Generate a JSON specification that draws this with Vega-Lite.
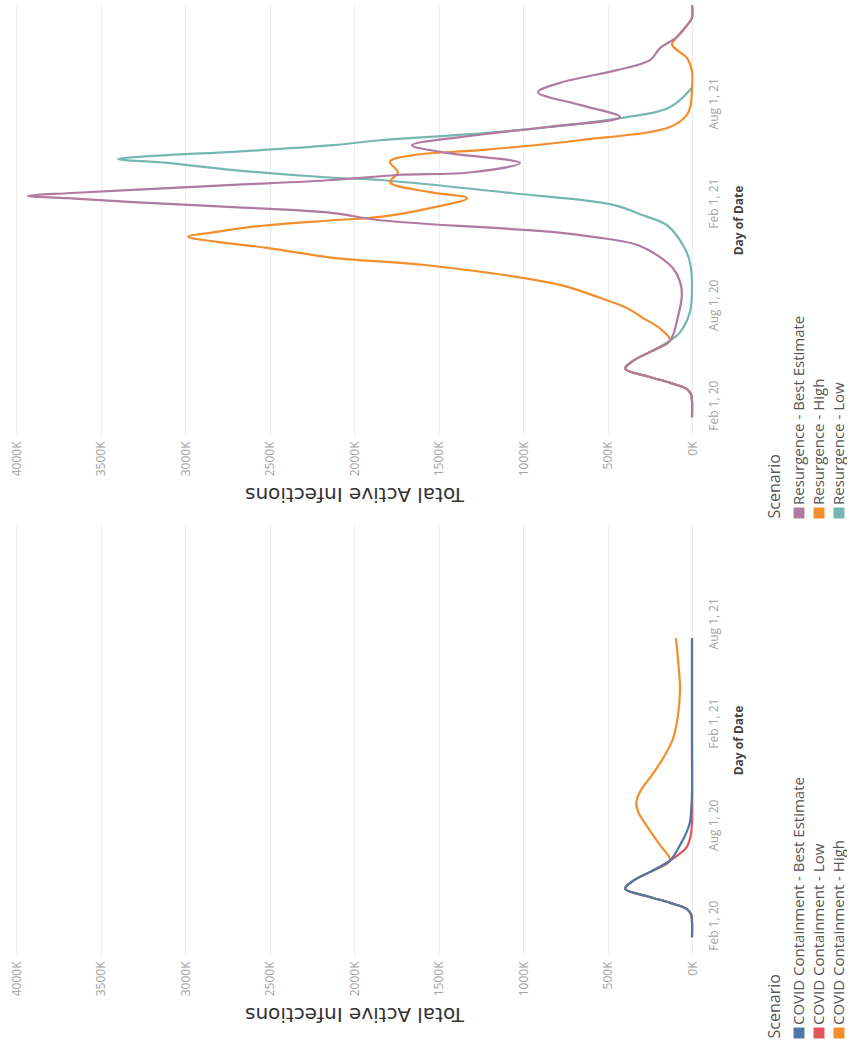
{
  "$schema": "https://vega.github.io/schema/vega-lite/v6.json",
  "background": "white",
  "padding": {"left": 10, "top": 0, "right": 0, "bottom": 0},
  "config": {
    "view": {"stroke": null},
    "font": "Open Sans",
    "axis": {"labelFont": "Open Sans", "titleFont": "Open Sans"}
  },
  "datasets": {
    "resurgence": [
      {"Scenario": "Resurgence - Low", "Date": "2020-01-10", "Infections": 0},
      {"Scenario": "Resurgence - Low", "Date": "2020-02-08", "Infections": 0},
      {"Scenario": "Resurgence - Low", "Date": "2020-02-20", "Infections": 5000},
      {"Scenario": "Resurgence - Low", "Date": "2020-03-01", "Infections": 30000},
      {"Scenario": "Resurgence - Low", "Date": "2020-03-12", "Infections": 125000},
      {"Scenario": "Resurgence - Low", "Date": "2020-03-24", "Infections": 260000},
      {"Scenario": "Resurgence - Low", "Date": "2020-04-07", "Infections": 396000},
      {"Scenario": "Resurgence - Low", "Date": "2020-04-22", "Infections": 345000},
      {"Scenario": "Resurgence - Low", "Date": "2020-05-08", "Infections": 245000},
      {"Scenario": "Resurgence - Low", "Date": "2020-05-28", "Infections": 130000},
      {"Scenario": "Resurgence - Low", "Date": "2020-06-12", "Infections": 71000},
      {"Scenario": "Resurgence - Low", "Date": "2020-07-19", "Infections": 12000},
      {"Scenario": "Resurgence - Low", "Date": "2020-09-06", "Infections": 0},
      {"Scenario": "Resurgence - Low", "Date": "2020-10-17", "Infections": 12000},
      {"Scenario": "Resurgence - Low", "Date": "2020-11-17", "Infections": 53000},
      {"Scenario": "Resurgence - Low", "Date": "2020-12-23", "Infections": 148000},
      {"Scenario": "Resurgence - Low", "Date": "2021-01-10", "Infections": 290000},
      {"Scenario": "Resurgence - Low", "Date": "2021-01-29", "Infections": 467000},
      {"Scenario": "Resurgence - Low", "Date": "2021-02-19", "Infections": 1059000},
      {"Scenario": "Resurgence - Low", "Date": "2021-03-15", "Infections": 1846000},
      {"Scenario": "Resurgence - Low", "Date": "2021-03-19", "Infections": 2124000},
      {"Scenario": "Resurgence - Low", "Date": "2021-04-02", "Infections": 2716000},
      {"Scenario": "Resurgence - Low", "Date": "2021-04-15", "Infections": 3106000},
      {"Scenario": "Resurgence - Low", "Date": "2021-04-22", "Infections": 3396000},
      {"Scenario": "Resurgence - Low", "Date": "2021-04-29", "Infections": 3106000},
      {"Scenario": "Resurgence - Low", "Date": "2021-05-05", "Infections": 2716000},
      {"Scenario": "Resurgence - Low", "Date": "2021-05-17", "Infections": 2124000},
      {"Scenario": "Resurgence - Low", "Date": "2021-05-26", "Infections": 1846000},
      {"Scenario": "Resurgence - Low", "Date": "2021-06-10", "Infections": 1136000},
      {"Scenario": "Resurgence - Low", "Date": "2021-07-05", "Infections": 426000},
      {"Scenario": "Resurgence - Low", "Date": "2021-07-25", "Infections": 130000},
      {"Scenario": "Resurgence - Low", "Date": "2021-08-29", "Infections": 0},

      {"Scenario": "Resurgence - High", "Date": "2020-01-10", "Infections": 0},
      {"Scenario": "Resurgence - High", "Date": "2020-02-08", "Infections": 0},
      {"Scenario": "Resurgence - High", "Date": "2020-02-20", "Infections": 5000},
      {"Scenario": "Resurgence - High", "Date": "2020-03-01", "Infections": 30000},
      {"Scenario": "Resurgence - High", "Date": "2020-03-12", "Infections": 125000},
      {"Scenario": "Resurgence - High", "Date": "2020-03-24", "Infections": 260000},
      {"Scenario": "Resurgence - High", "Date": "2020-04-07", "Infections": 396000},
      {"Scenario": "Resurgence - High", "Date": "2020-04-22", "Infections": 345000},
      {"Scenario": "Resurgence - High", "Date": "2020-05-08", "Infections": 245000},
      {"Scenario": "Resurgence - High", "Date": "2020-05-28", "Infections": 130000},
      {"Scenario": "Resurgence - High", "Date": "2020-06-19", "Infections": 189000},
      {"Scenario": "Resurgence - High", "Date": "2020-07-08", "Infections": 290000},
      {"Scenario": "Resurgence - High", "Date": "2020-07-26", "Infections": 385000},
      {"Scenario": "Resurgence - High", "Date": "2020-08-18", "Infections": 586000},
      {"Scenario": "Resurgence - High", "Date": "2020-09-06", "Infections": 781000},
      {"Scenario": "Resurgence - High", "Date": "2020-10-12", "Infections": 1580000},
      {"Scenario": "Resurgence - High", "Date": "2020-10-25", "Infections": 2124000},
      {"Scenario": "Resurgence - High", "Date": "2020-11-12", "Infections": 2515000},
      {"Scenario": "Resurgence - High", "Date": "2020-11-23", "Infections": 2811000},
      {"Scenario": "Resurgence - High", "Date": "2020-12-02", "Infections": 2982000},
      {"Scenario": "Resurgence - High", "Date": "2020-12-11", "Infections": 2811000},
      {"Scenario": "Resurgence - High", "Date": "2020-12-23", "Infections": 2515000},
      {"Scenario": "Resurgence - High", "Date": "2021-01-01", "Infections": 2124000},
      {"Scenario": "Resurgence - High", "Date": "2021-01-07", "Infections": 1846000},
      {"Scenario": "Resurgence - High", "Date": "2021-01-23", "Infections": 1550000},
      {"Scenario": "Resurgence - High", "Date": "2021-02-10", "Infections": 1330000},
      {"Scenario": "Resurgence - High", "Date": "2021-02-21", "Infections": 1550000},
      {"Scenario": "Resurgence - High", "Date": "2021-03-11", "Infections": 1787000},
      {"Scenario": "Resurgence - High", "Date": "2021-03-29", "Infections": 1740000},
      {"Scenario": "Resurgence - High", "Date": "2021-04-17", "Infections": 1787000},
      {"Scenario": "Resurgence - High", "Date": "2021-04-29", "Infections": 1651000},
      {"Scenario": "Resurgence - High", "Date": "2021-05-08", "Infections": 1254000},
      {"Scenario": "Resurgence - High", "Date": "2021-05-26", "Infections": 663000},
      {"Scenario": "Resurgence - High", "Date": "2021-06-19", "Infections": 130000},
      {"Scenario": "Resurgence - High", "Date": "2021-07-11", "Infections": 30000},
      {"Scenario": "Resurgence - High", "Date": "2021-07-29", "Infections": 8000},
      {"Scenario": "Resurgence - High", "Date": "2021-08-29", "Infections": 0},
      {"Scenario": "Resurgence - High", "Date": "2021-09-27", "Infections": 0},
      {"Scenario": "Resurgence - High", "Date": "2021-10-22", "Infections": 30000},
      {"Scenario": "Resurgence - High", "Date": "2021-11-15", "Infections": 118000},
      {"Scenario": "Resurgence - High", "Date": "2021-11-29", "Infections": 89000},
      {"Scenario": "Resurgence - High", "Date": "2021-12-20", "Infections": 30000},
      {"Scenario": "Resurgence - High", "Date": "2022-01-03", "Infections": 0},
      {"Scenario": "Resurgence - High", "Date": "2022-01-26", "Infections": 0},

      {"Scenario": "Resurgence - Best Estimate", "Date": "2020-01-10", "Infections": 0},
      {"Scenario": "Resurgence - Best Estimate", "Date": "2020-02-08", "Infections": 0},
      {"Scenario": "Resurgence - Best Estimate", "Date": "2020-02-20", "Infections": 5000},
      {"Scenario": "Resurgence - Best Estimate", "Date": "2020-03-01", "Infections": 30000},
      {"Scenario": "Resurgence - Best Estimate", "Date": "2020-03-12", "Infections": 125000},
      {"Scenario": "Resurgence - Best Estimate", "Date": "2020-03-24", "Infections": 260000},
      {"Scenario": "Resurgence - Best Estimate", "Date": "2020-04-07", "Infections": 396000},
      {"Scenario": "Resurgence - Best Estimate", "Date": "2020-04-22", "Infections": 345000},
      {"Scenario": "Resurgence - Best Estimate", "Date": "2020-05-08", "Infections": 245000},
      {"Scenario": "Resurgence - Best Estimate", "Date": "2020-05-28", "Infections": 130000},
      {"Scenario": "Resurgence - Best Estimate", "Date": "2020-07-08", "Infections": 85000},
      {"Scenario": "Resurgence - Best Estimate", "Date": "2020-08-18", "Infections": 60000},
      {"Scenario": "Resurgence - Best Estimate", "Date": "2020-09-11", "Infections": 70000},
      {"Scenario": "Resurgence - Best Estimate", "Date": "2020-10-06", "Infections": 112000},
      {"Scenario": "Resurgence - Best Estimate", "Date": "2020-10-30", "Infections": 207000},
      {"Scenario": "Resurgence - Best Estimate", "Date": "2020-11-19", "Infections": 340000},
      {"Scenario": "Resurgence - Best Estimate", "Date": "2020-12-02", "Infections": 586000},
      {"Scenario": "Resurgence - Best Estimate", "Date": "2020-12-11", "Infections": 830000},
      {"Scenario": "Resurgence - Best Estimate", "Date": "2021-01-01", "Infections": 1846000},
      {"Scenario": "Resurgence - Best Estimate", "Date": "2021-01-14", "Infections": 2124000},
      {"Scenario": "Resurgence - Best Estimate", "Date": "2021-01-25", "Infections": 2716000},
      {"Scenario": "Resurgence - Best Estimate", "Date": "2021-02-03", "Infections": 3308000},
      {"Scenario": "Resurgence - Best Estimate", "Date": "2021-02-10", "Infections": 3698000},
      {"Scenario": "Resurgence - Best Estimate", "Date": "2021-02-14", "Infections": 3929000},
      {"Scenario": "Resurgence - Best Estimate", "Date": "2021-02-19", "Infections": 3698000},
      {"Scenario": "Resurgence - Best Estimate", "Date": "2021-02-25", "Infections": 3308000},
      {"Scenario": "Resurgence - Best Estimate", "Date": "2021-03-06", "Infections": 2716000},
      {"Scenario": "Resurgence - Best Estimate", "Date": "2021-03-15", "Infections": 2124000},
      {"Scenario": "Resurgence - Best Estimate", "Date": "2021-03-24", "Infections": 1745000},
      {"Scenario": "Resurgence - Best Estimate", "Date": "2021-03-29", "Infections": 1300000},
      {"Scenario": "Resurgence - Best Estimate", "Date": "2021-04-15", "Infections": 1018000},
      {"Scenario": "Resurgence - Best Estimate", "Date": "2021-05-03", "Infections": 1450000},
      {"Scenario": "Resurgence - Best Estimate", "Date": "2021-05-17", "Infections": 1657000},
      {"Scenario": "Resurgence - Best Estimate", "Date": "2021-06-05", "Infections": 1254000},
      {"Scenario": "Resurgence - Best Estimate", "Date": "2021-06-19", "Infections": 858000},
      {"Scenario": "Resurgence - Best Estimate", "Date": "2021-07-07", "Infections": 426000},
      {"Scenario": "Resurgence - Best Estimate", "Date": "2021-07-29", "Infections": 663000},
      {"Scenario": "Resurgence - Best Estimate", "Date": "2021-08-21", "Infections": 911000},
      {"Scenario": "Resurgence - Best Estimate", "Date": "2021-09-07", "Infections": 781000},
      {"Scenario": "Resurgence - Best Estimate", "Date": "2021-09-30", "Infections": 444000},
      {"Scenario": "Resurgence - Best Estimate", "Date": "2021-10-18", "Infections": 249000},
      {"Scenario": "Resurgence - Best Estimate", "Date": "2021-11-09", "Infections": 189000},
      {"Scenario": "Resurgence - Best Estimate", "Date": "2021-11-29", "Infections": 89000},
      {"Scenario": "Resurgence - Best Estimate", "Date": "2021-12-20", "Infections": 30000},
      {"Scenario": "Resurgence - Best Estimate", "Date": "2022-01-03", "Infections": 0},
      {"Scenario": "Resurgence - Best Estimate", "Date": "2022-01-26", "Infections": 0}
    ],
    "containment": [
      {"Scenario": "COVID Containment - Low", "Date": "2020-01-10", "Infections": 0},
      {"Scenario": "COVID Containment - Low", "Date": "2020-02-08", "Infections": 0},
      {"Scenario": "COVID Containment - Low", "Date": "2020-02-20", "Infections": 5000},
      {"Scenario": "COVID Containment - Low", "Date": "2020-03-01", "Infections": 30000},
      {"Scenario": "COVID Containment - Low", "Date": "2020-03-12", "Infections": 125000},
      {"Scenario": "COVID Containment - Low", "Date": "2020-03-24", "Infections": 260000},
      {"Scenario": "COVID Containment - Low", "Date": "2020-04-07", "Infections": 396000},
      {"Scenario": "COVID Containment - Low", "Date": "2020-04-22", "Infections": 345000},
      {"Scenario": "COVID Containment - Low", "Date": "2020-05-08", "Infections": 245000},
      {"Scenario": "COVID Containment - Low", "Date": "2020-05-28", "Infections": 130000},
      {"Scenario": "COVID Containment - Low", "Date": "2020-06-10", "Infections": 70000},
      {"Scenario": "COVID Containment - Low", "Date": "2020-06-22", "Infections": 30000},
      {"Scenario": "COVID Containment - Low", "Date": "2020-07-12", "Infections": 8000},
      {"Scenario": "COVID Containment - Low", "Date": "2020-08-05", "Infections": 0},
      {"Scenario": "COVID Containment - Low", "Date": "2020-12-01", "Infections": 0},
      {"Scenario": "COVID Containment - Low", "Date": "2021-07-05", "Infections": 0},

      {"Scenario": "COVID Containment - High", "Date": "2020-01-10", "Infections": 0},
      {"Scenario": "COVID Containment - High", "Date": "2020-02-08", "Infections": 0},
      {"Scenario": "COVID Containment - High", "Date": "2020-02-20", "Infections": 5000},
      {"Scenario": "COVID Containment - High", "Date": "2020-03-01", "Infections": 30000},
      {"Scenario": "COVID Containment - High", "Date": "2020-03-12", "Infections": 125000},
      {"Scenario": "COVID Containment - High", "Date": "2020-03-24", "Infections": 260000},
      {"Scenario": "COVID Containment - High", "Date": "2020-04-07", "Infections": 396000},
      {"Scenario": "COVID Containment - High", "Date": "2020-04-22", "Infections": 345000},
      {"Scenario": "COVID Containment - High", "Date": "2020-05-08", "Infections": 245000},
      {"Scenario": "COVID Containment - High", "Date": "2020-05-28", "Infections": 130000},
      {"Scenario": "COVID Containment - High", "Date": "2020-06-25", "Infections": 189000},
      {"Scenario": "COVID Containment - High", "Date": "2020-07-31", "Infections": 270000},
      {"Scenario": "COVID Containment - High", "Date": "2020-08-22", "Infections": 315000},
      {"Scenario": "COVID Containment - High", "Date": "2020-09-10", "Infections": 330000},
      {"Scenario": "COVID Containment - High", "Date": "2020-10-01", "Infections": 305000},
      {"Scenario": "COVID Containment - High", "Date": "2020-10-30", "Infections": 237000},
      {"Scenario": "COVID Containment - High", "Date": "2020-11-29", "Infections": 172000},
      {"Scenario": "COVID Containment - High", "Date": "2021-01-04", "Infections": 112000},
      {"Scenario": "COVID Containment - High", "Date": "2021-02-15", "Infections": 83000},
      {"Scenario": "COVID Containment - High", "Date": "2021-04-05", "Infections": 71000},
      {"Scenario": "COVID Containment - High", "Date": "2021-05-17", "Infections": 80000},
      {"Scenario": "COVID Containment - High", "Date": "2021-07-05", "Infections": 95000},

      {"Scenario": "COVID Containment - Best Estimate", "Date": "2020-01-10", "Infections": 0},
      {"Scenario": "COVID Containment - Best Estimate", "Date": "2020-02-08", "Infections": 0},
      {"Scenario": "COVID Containment - Best Estimate", "Date": "2020-02-20", "Infections": 5000},
      {"Scenario": "COVID Containment - Best Estimate", "Date": "2020-03-01", "Infections": 30000},
      {"Scenario": "COVID Containment - Best Estimate", "Date": "2020-03-12", "Infections": 125000},
      {"Scenario": "COVID Containment - Best Estimate", "Date": "2020-03-24", "Infections": 260000},
      {"Scenario": "COVID Containment - Best Estimate", "Date": "2020-04-07", "Infections": 396000},
      {"Scenario": "COVID Containment - Best Estimate", "Date": "2020-04-22", "Infections": 345000},
      {"Scenario": "COVID Containment - Best Estimate", "Date": "2020-05-08", "Infections": 245000},
      {"Scenario": "COVID Containment - Best Estimate", "Date": "2020-05-28", "Infections": 130000},
      {"Scenario": "COVID Containment - Best Estimate", "Date": "2020-06-25", "Infections": 71000},
      {"Scenario": "COVID Containment - Best Estimate", "Date": "2020-07-20", "Infections": 30000},
      {"Scenario": "COVID Containment - Best Estimate", "Date": "2020-08-06", "Infections": 12000},
      {"Scenario": "COVID Containment - Best Estimate", "Date": "2020-09-01", "Infections": 4000},
      {"Scenario": "COVID Containment - Best Estimate", "Date": "2020-09-29", "Infections": 0},
      {"Scenario": "COVID Containment - Best Estimate", "Date": "2021-01-15", "Infections": 0},
      {"Scenario": "COVID Containment - Best Estimate", "Date": "2021-07-05", "Infections": 0}
    ]
  },
  "resolve": {"scale": {"color": "independent"}},
  "spacing": 6,
  "vconcat": [
    {
      "spacing": 22,
      "hconcat": [
        {
          "width": 676,
          "height": 430,
          "data": {"name": "resurgence"},
          "mark": {"type": "line", "interpolate": "catmull-rom", "strokeWidth": 2.2},
          "encoding": {
            "x": {
              "field": "Infections", "type": "quantitative",
              "scale": {"domain": [0, 4000000], "reverse": true, "nice": false},
              "axis": {
                "orient": "bottom", "title": "Total Active Infections",
                "values": [0, 500000, 1000000, 1500000, 2000000, 2500000, 3000000, 3500000, 4000000],
                "labelExpr": "format(datum.value / 1000, 'd') + 'K'",
                "labelAngle": 270, "labelAlign": "right", "labelBaseline": "middle",
                "labelPadding": 6, "labelFontSize": 12, "labelColor": "#a3a3a3",
                "ticks": false, "domain": false, "grid": true, "gridColor": "#ededed", "gridWidth": 1,
                "titleAngle": 180, "titleBaseline": "bottom", "titleFontSize": 20, "titleFont": "DejaVu Sans",
                "titleFontWeight": "normal", "titleColor": "#333333", "titlePadding": 8
              }
            },
            "y": {
              "field": "Date", "type": "temporal",
              "scale": {"type": "utc", "domain": [{"year": 2019, "month": 12, "date": 9, "utc": true}, {"year": 2022, "month": 1, "date": 26, "utc": true}]},
              "axis": {
                "orient": "right", "title": "Day of Date",
                "values": [
                  {"year": 2020, "month": 2, "date": 1, "utc": true},
                  {"year": 2020, "month": 8, "date": 1, "utc": true},
                  {"year": 2021, "month": 2, "date": 1, "utc": true},
                  {"year": 2021, "month": 8, "date": 1, "utc": true}
                ],
                "format": "%b %-d, %y",
                "labelAngle": 270, "labelAlign": "center", "labelBaseline": "top",
                "labelPadding": 16, "labelFontSize": 12, "labelColor": "#a3a3a3",
                "ticks": false, "domain": false, "grid": false,
                "titleAngle": 270, "titleBaseline": "top", "titleFontSize": 12,
                "titleFontWeight": "bold", "titleColor": "#444444", "titlePadding": 14
              }
            },
            "color": {
              "field": "Scenario", "type": "nominal",
              "scale": {"domain": ["Resurgence - Best Estimate", "Resurgence - High", "Resurgence - Low"], "range": ["#b07aa1", "#f28e2b", "#76b7b2"]},
              "legend": null
            },
            "order": {"field": "Date", "type": "temporal"}
          }
        },
        {
          "width": 40,
          "height": 508,
          "data": {"name": "resurgence"},
          "transform": [{"aggregate": [{"op": "count", "as": "n"}], "groupby": ["Scenario"]}],
          "title": {"text": "Scenario", "orient": "left", "anchor": "start", "fontSize": 16, "fontWeight": "normal", "color": "#555555", "font": "Open Sans", "offset": 9},
          "encoding": {
            "x": {"field": "Scenario", "type": "nominal", "scale": {"type": "point", "domain": ["Resurgence - Best Estimate", "Resurgence - High", "Resurgence - Low"], "padding": 0}, "axis": null},
            "y": {"datum": 0, "type": "quantitative", "scale": {"domain": [0, 1]}, "axis": null},
            "color": {
              "field": "Scenario", "type": "nominal",
              "scale": {"domain": ["Resurgence - Best Estimate", "Resurgence - High", "Resurgence - Low"], "range": ["#b07aa1", "#f28e2b", "#76b7b2"]},
              "legend": null
            }
          },
          "layer": [
            {"mark": {"type": "square", "size": 120, "opacity": 1}},
            {
              "mark": {"type": "text", "angle": 270, "align": "left", "baseline": "middle", "dx": 8, "fontSize": 15, "font": "Open Sans"},
              "encoding": {"text": {"field": "Scenario"}, "color": {"value": "#555555"}}
            }
          ]
        }
      ]
    },
    {
      "spacing": 22,
      "hconcat": [
        {
          "width": 676,
          "height": 430,
          "data": {"name": "containment"},
          "mark": {"type": "line", "interpolate": "catmull-rom", "strokeWidth": 2.2},
          "encoding": {
            "x": {
              "field": "Infections", "type": "quantitative",
              "scale": {"domain": [0, 4000000], "reverse": true, "nice": false},
              "axis": {
                "orient": "bottom", "title": "Total Active Infections",
                "values": [0, 500000, 1000000, 1500000, 2000000, 2500000, 3000000, 3500000, 4000000],
                "labelExpr": "format(datum.value / 1000, 'd') + 'K'",
                "labelAngle": 270, "labelAlign": "right", "labelBaseline": "middle",
                "labelPadding": 6, "labelFontSize": 12, "labelColor": "#a3a3a3",
                "ticks": false, "domain": false, "grid": true, "gridColor": "#ededed", "gridWidth": 1,
                "titleAngle": 180, "titleBaseline": "bottom", "titleFontSize": 20, "titleFont": "DejaVu Sans",
                "titleFontWeight": "normal", "titleColor": "#333333", "titlePadding": 8
              }
            },
            "y": {
              "field": "Date", "type": "temporal",
              "scale": {"type": "utc", "domain": [{"year": 2019, "month": 12, "date": 9, "utc": true}, {"year": 2022, "month": 1, "date": 26, "utc": true}]},
              "axis": {
                "orient": "right", "title": "Day of Date",
                "values": [
                  {"year": 2020, "month": 2, "date": 1, "utc": true},
                  {"year": 2020, "month": 8, "date": 1, "utc": true},
                  {"year": 2021, "month": 2, "date": 1, "utc": true},
                  {"year": 2021, "month": 8, "date": 1, "utc": true}
                ],
                "format": "%b %-d, %y",
                "labelAngle": 270, "labelAlign": "center", "labelBaseline": "top",
                "labelPadding": 16, "labelFontSize": 12, "labelColor": "#a3a3a3",
                "ticks": false, "domain": false, "grid": false,
                "titleAngle": 270, "titleBaseline": "top", "titleFontSize": 12,
                "titleFontWeight": "bold", "titleColor": "#444444", "titlePadding": 14
              }
            },
            "color": {
              "field": "Scenario", "type": "nominal",
              "scale": {"domain": ["COVID Containment - Best Estimate", "COVID Containment - Low", "COVID Containment - High"], "range": ["#4e79a7", "#e15759", "#f28e2b"]},
              "legend": null
            },
            "order": {"field": "Date", "type": "temporal"}
          }
        },
        {
          "width": 40,
          "height": 508,
          "data": {"name": "containment"},
          "transform": [{"aggregate": [{"op": "count", "as": "n"}], "groupby": ["Scenario"]}],
          "title": {"text": "Scenario", "orient": "left", "anchor": "start", "fontSize": 16, "fontWeight": "normal", "color": "#555555", "font": "Open Sans", "offset": 9},
          "encoding": {
            "x": {"field": "Scenario", "type": "nominal", "scale": {"type": "point", "domain": ["COVID Containment - Best Estimate", "COVID Containment - Low", "COVID Containment - High"], "padding": 0}, "axis": null},
            "y": {"datum": 0, "type": "quantitative", "scale": {"domain": [0, 1]}, "axis": null},
            "color": {
              "field": "Scenario", "type": "nominal",
              "scale": {"domain": ["COVID Containment - Best Estimate", "COVID Containment - Low", "COVID Containment - High"], "range": ["#4e79a7", "#e15759", "#f28e2b"]},
              "legend": null
            }
          },
          "layer": [
            {"mark": {"type": "square", "size": 120, "opacity": 1}},
            {
              "mark": {"type": "text", "angle": 270, "align": "left", "baseline": "middle", "dx": 8, "fontSize": 15, "font": "Open Sans"},
              "encoding": {"text": {"field": "Scenario"}, "color": {"value": "#555555"}}
            }
          ]
        }
      ]
    }
  ]
}
